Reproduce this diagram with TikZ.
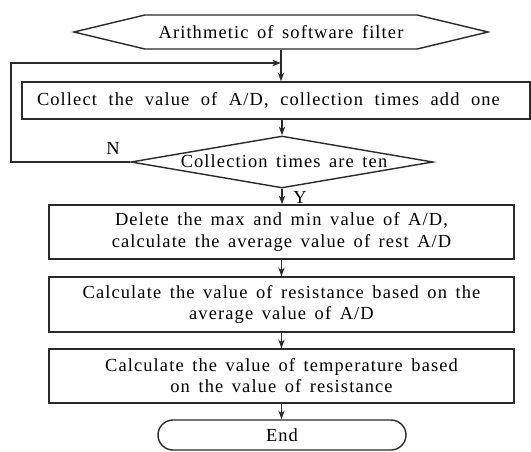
\documentclass[tikz,border=0pt]{standalone}
\usepackage{fontspec}
\setmainfont{Liberation Serif}[LetterSpace=6,WordSpace=1.5]
\usetikzlibrary{arrows.meta,positioning,shapes.geometric,shapes.misc,shapes.symbols}
\definecolor{ink}{HTML}{2A2A2A}

\begin{document}
\begin{tikzpicture}[font=\fontsize{10.5}{12}\selectfont,>={Stealth[length=5pt,width=3.6pt]},
  procbox/.style={draw=ink,line width=0.8pt,minimum width=9.3cm,inner sep=0pt,align=center},
  decision/.style={diamond,draw=ink,line width=0.8pt,minimum width=6.04cm,minimum height=1.04cm,inner sep=0pt},
  startsig/.style={signal,signal to=west and east,signal pointer angle=27,draw=ink,line width=0.8pt,minimum width=8.28cm,minimum height=0.68cm,inner sep=0pt},
  terminal/.style={rounded rectangle,draw=ink,line width=0.8pt,minimum width=4.96cm,minimum height=0.6cm,inner sep=0pt},
  flow/.style={->,draw=ink,line width=0.6pt}]
\useasboundingbox (0,0) rectangle (10.62,9.02);
\node[startsig] (start) at (5.62,8.38) {Arithmetic of software filter};
\node[procbox,minimum width=10.16cm,minimum height=0.74cm,inner xsep=0.3cm,text width=9.56cm,align=left] (collect) at (5.52,7.01) {\spaceskip=6.6pt Collect the value of A/D, collection times add one};
\node[decision] (check) at (5.64,5.78) {};
\node (checktxt) at (5.68,5.80) {Collection times are ten};
\node[procbox,minimum height=1.08cm] (delete) at (5.63,4.38) {Delete the max and min value of A/D,\\calculate the average value of rest A/D};
\node[procbox,minimum height=1.1cm] (resist) at (5.63,2.93) {Calculate the value of resistance based on the\\average value of A/D};
\node[procbox,minimum height=1.08cm] (temp) at (5.63,1.5) {Calculate the value of temperature based\\on the value of resistance};
\node[terminal] (finish) at (5.64,0.32) {End};
\node (nlab) at (2.26,6.06) {N};
\node (ylab) at (6.0,5.08) {Y};
\coordinate (join) at (5.62,7.76);
\coordinate (fbx) at (0.22,7.76);
% main line
\draw[flow] (start.south) -- (start.south |- collect.north);
\draw[flow] (collect.south -| check.north) -- (check.north);
\draw[flow] (check.south) -- (check.south |- delete.north);
\draw[flow] (delete.south) -- (resist.north);
\draw[flow] (resist.south) -- (temp.north);
\draw[flow] (temp.south) -- (temp.south |- finish.north);
% loop back
\draw[flow] (check.west) -| (fbx) -- (join);
\end{tikzpicture}
\end{document}
